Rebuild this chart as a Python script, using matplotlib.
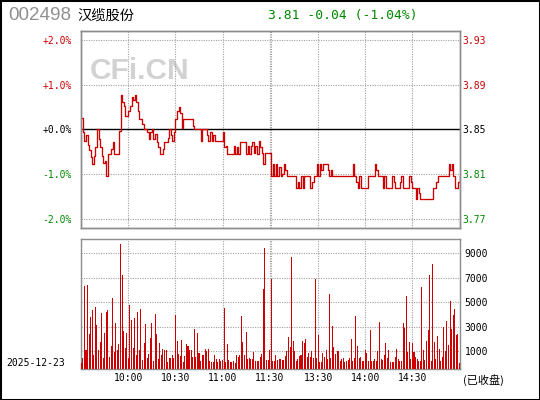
import matplotlib
matplotlib.use("Agg")
import matplotlib.pyplot as plt
from matplotlib.patches import Rectangle
import numpy as np

# ---------------- data ----------------
code = "002498"
name = "汉缆股份"
prev_close = 3.85
last_price = 3.81
change = -0.04
change_pct = -1.04
date_label = "2025-12-23"
status_label = "(已收盘)"

prices = [
    3.860, 3.848, 3.840, 3.845, 3.837, 3.832, 3.826, 3.820, 3.827, 3.835,
    3.850, 3.842, 3.835, 3.827, 3.821, 3.823, 3.810, 3.829, 3.829, 3.833,
    3.839, 3.829, 3.829, 3.829, 3.849, 3.880, 3.874, 3.870, 3.862, 3.862,
    3.866, 3.870, 3.878, 3.875, 3.880, 3.874, 3.866, 3.859, 3.859, 3.855,
    3.850, 3.850, 3.848, 3.842, 3.848, 3.850, 3.842, 3.846, 3.839, 3.835,
    3.829, 3.829, 3.833, 3.839, 3.839, 3.843, 3.850, 3.845, 3.840, 3.848,
    3.859, 3.866, 3.869, 3.864, 3.851, 3.859, 3.859, 3.859, 3.859, 3.859,
    3.859, 3.853, 3.850, 3.850, 3.850, 3.850, 3.840, 3.850, 3.850, 3.850,
    3.845, 3.840, 3.848, 3.840, 3.845, 3.840, 3.840, 3.840, 3.840, 3.840,
    3.848, 3.835, 3.836, 3.829, 3.829, 3.829, 3.829, 3.836, 3.829, 3.835,
    3.829, 3.839, 3.839, 3.839, 3.839, 3.829, 3.836, 3.829, 3.836, 3.839,
    3.830, 3.836, 3.829, 3.840, 3.835, 3.830, 3.820, 3.830, 3.830, 3.830,
    3.830, 3.810, 3.820, 3.810, 3.820, 3.810, 3.818, 3.810, 3.812, 3.820,
    3.815, 3.810, 3.810, 3.810, 3.810, 3.810, 3.810, 3.800, 3.805, 3.800,
    3.810, 3.800, 3.810, 3.810, 3.810, 3.810, 3.800, 3.805, 3.810, 3.810,
    3.820, 3.810, 3.820, 3.815, 3.820, 3.820, 3.820, 3.815, 3.810, 3.815,
    3.810, 3.810, 3.810, 3.810, 3.810, 3.810, 3.810, 3.810, 3.810, 3.810,
    3.810, 3.810, 3.810, 3.820, 3.810, 3.805, 3.800, 3.810, 3.800, 3.800,
    3.800, 3.800, 3.800, 3.810, 3.810, 3.810, 3.810, 3.820, 3.815, 3.810,
    3.810, 3.810, 3.800, 3.810, 3.800, 3.800, 3.800, 3.800, 3.810, 3.805,
    3.800, 3.800, 3.800, 3.805, 3.810, 3.800, 3.800, 3.800, 3.800, 3.810,
    3.805, 3.800, 3.800, 3.790, 3.800, 3.795, 3.790, 3.790, 3.790, 3.790,
    3.790, 3.790, 3.790, 3.790, 3.800, 3.800, 3.805, 3.810, 3.810, 3.810,
    3.810, 3.810, 3.810, 3.810, 3.820, 3.815, 3.820, 3.810, 3.800, 3.800,
    3.805, 3.810,
]

volumes = [
    0, 425, 6316, 1080, 6398, 2389, 3752, 4352, 671, 4570,
    3125, 1080, 1734, 4107, 425, 2471, 4189, 4352, 507, 1407,
    5333, 916, 3289, 1080, 1571, 9751, 7214, 2634, 1244, 2471,
    425, 4761, 3534, 1244, 3698, 671, 4189, 1080, 4434, 262,
    1653, 3207, 425, 753, 2062, 3289, 180, 4025, 2389, 344,
    1653, 671, 1162, 1080, 1080, 125, 425, 425, 671, 425,
    3943, 1816, 753, 589, 1898, 100, 589, 1571, 1407, 1080,
    1080, 507, 2798, 507, 2471, 834, 180, 671, 671, 1162,
    998, 1162, 180, 98, 98, 671, 344, 98, 344, 180,
    262, 4516, 98, 1571, 262, 98, 98, 180, 50, 671,
    507, 671, 3861, 1734, 671, 2552, 344, 425, 344, 344,
    916, 180, 180, 180, 507, 753, 6070, 9424, 262, 262,
    1080, 6890, 180, 180, 671, 262, 344, 344, 262, 262,
    589, 998, 2140, 1320, 8710, 1810, 998, 180, 344, 589,
    671, 1816, 1653, 1980, 507, 834, 507, 998, 425, 6890,
    425, 2300, 98, 98, 834, 507, 1080, 344, 5660, 425,
    3010, 1300, 753, 998, 998, 180, 344, 425, 98, 180,
    262, 425, 1980, 180, 425, 3860, 1400, 425, 534, 180,
    180, 1080, 834, 180, 2720, 180, 180, 344, 180, 998,
    3370, 344, 262, 671, 1650, 425, 1080, 98, 98, 98,
    507, 1160, 344, 180, 180, 3270, 2880, 5490, 916, 1734,
    344, 1653, 916, 507, 344, 180, 180, 6230, 1080, 262,
    1810, 2720, 7210, 180, 8110, 1734, 344, 2220, 1160, 180,
    507, 2960, 998, 3450, 1490, 5100, 2800, 3940, 4430, 2300,
    2380, 0,
]

time_ticks = [30, 60, 90, 120, 151, 181, 211]
time_labels = ["10:00", "10:30", "11:00", "11:30", "13:30", "14:00", "14:30"]
time_grid = [30, 60, 90, 120, 121, 151, 181, 211]

pct_ticks = [2.0, 1.0, 0.0, -1.0, -2.0]
pct_labels = ["+2.0%", "+1.0%", "+0.0%", "-1.0%", "-2.0%"]
price_labels = ["3.93", "3.89", "3.85", "3.81", "3.77"]
label_colors = ["#cc0000", "#cc0000", "#000000", "#008800", "#008800"]

vol_ticks = [1000, 3000, 5000, 7000, 9000]
vol_labels = ["1000", "3000", "5000", "7000", "9000"]

# ---------------- style ----------------
RED = "#cc0000"
GREEN = "#008800"
GRID = "#a0a0a0"
SPINE = "#8c8c8c"
MONO = "DejaVu Sans Mono"
W, H = 540, 400

fig = plt.figure(figsize=(W / 100, H / 100), dpi=100)
fig.patch.set_facecolor("white")


def box(l, t, r, b):
    return [l / W, 1 - b / H, (r - l) / W, (b - t) / H]


ax = fig.add_axes(box(80.5, 31.5, 460.3, 228.3))
axv = fig.add_axes(box(80.5, 238.5, 460.3, 369.3))

x = np.arange(len(prices))
pct = (np.array(prices) / prev_close - 1) * 100

# price panel
ax.set_xlim(-0.5, 241.5)
ax.set_ylim(-2.21, 2.19)
for g in time_grid:
    ax.axvline(g, color=GRID, lw=0.8, ls=(0, (1, 1.2)), zorder=1)
for p in pct_ticks:
    if p != 0:
        ax.axhline(p, color=GRID, lw=0.8, ls=(0, (1, 1.2)), zorder=1)
ax.axhline(0, color="black", lw=1.0, zorder=2)
ax.text(0.025, 0.80, "CFi.CN", transform=ax.transAxes, fontsize=21.5,
        fontweight="bold", family="Liberation Sans", color="#d2d2d2",
        va="center", ha="left", zorder=0)
ax.plot(x, pct, drawstyle="steps-post", color=RED, lw=0.95, zorder=3)

ax.set_xticks([])
ax.set_yticks(pct_ticks)
ax.set_yticklabels(pct_labels, family=MONO, fontsize=7)
for lab, c in zip(ax.get_yticklabels(), label_colors):
    lab.set_color(c)
ax.tick_params(axis="y", length=0, pad=6)

ax2 = ax.twinx()
ax2.set_ylim(ax.get_ylim())
ax2.set_yticks(pct_ticks)
ax2.set_yticklabels(price_labels, family=MONO, fontsize=7)
for lab, c in zip(ax2.get_yticklabels(), label_colors):
    lab.set_color(c)
ax2.tick_params(axis="y", length=0, pad=1.5)

for a in (ax, ax2, axv):
    for s in a.spines.values():
        s.set_color(SPINE)
        s.set_linewidth(1.0)

# volume panel
vmin, vmax = -500, 10200
axv.set_xlim(-0.5, 241.5)
axv.set_ylim(vmin, vmax)
for g in time_grid:
    axv.axvline(g, color=GRID, lw=0.8, ls=(0, (1, 1.2)), zorder=1)
for v in vol_ticks:
    axv.axhline(v, color=GRID, lw=0.8, ls=(0, (1, 1.2)), zorder=1)
vols = np.array(volumes, dtype=float)
axv.bar(x, vols - vmin, bottom=vmin, width=0.65, color=RED, linewidth=0,
        zorder=3)
axv.set_xticks(time_ticks)
axv.set_xticklabels(time_labels, family=MONO, fontsize=7)
axv.tick_params(axis="x", length=0, pad=3)
axv.yaxis.tick_right()
axv.set_yticks(vol_ticks)
axv.set_yticklabels(vol_labels, family=MONO, fontsize=7)
axv.tick_params(axis="y", length=0, pad=3)

# header texts
fig.text(8 / W, 1 - 16 / H, code, fontsize=13.6, family="Liberation Sans",
         color="#909090", va="center", ha="left")
fig.text(77.5 / W, 1 - 15.5 / H, name, fontsize=10.3,
         family=["Noto Sans CJK SC", "DejaVu Sans"], color="black",
         va="center", ha="left")
fig.text(268 / W, 1 - 15 / H,
         f"{last_price:.2f} {change:+.2f} ({change_pct:+.2f}%)",
         fontsize=9.4, family=MONO, color=GREEN, va="center", ha="left")
fig.text(6.5 / W, 1 - 363 / H, date_label, fontsize=7, family=MONO,
         color="black", va="center", ha="left")
fig.text(463 / W, 1 - 380 / H, status_label, fontsize=8,
         family=["Noto Sans CJK SC", "DejaVu Sans"], color="black",
         va="center", ha="left")

fig.patches.append(Rectangle((0, 0), 1, 1, transform=fig.transFigure,
                             fill=False, edgecolor="black", lw=2.2))

fig.savefig("out.png", dpi=100, facecolor="white")
